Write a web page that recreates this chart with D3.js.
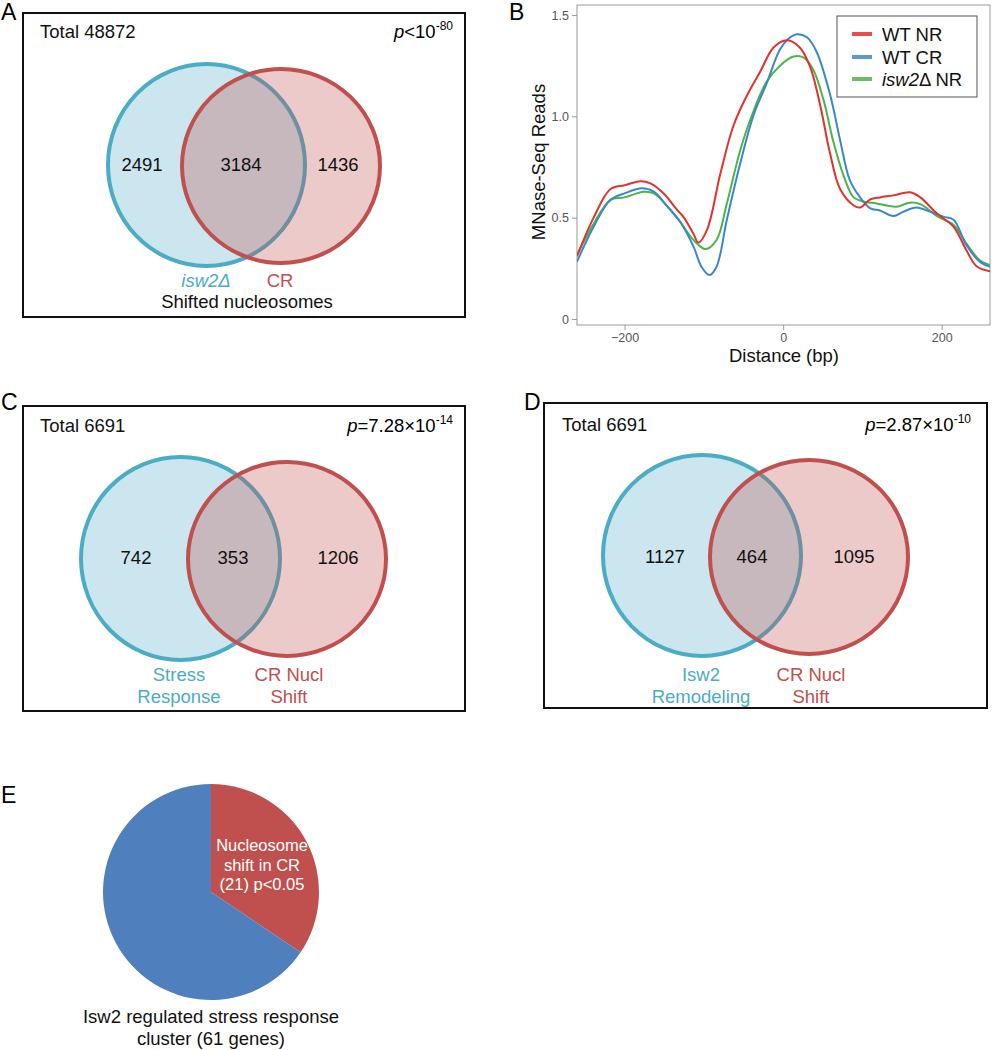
<!DOCTYPE html>
<html><head><meta charset="utf-8">
<script src="https://cdn.jsdelivr.net/npm/d3@7"></script>
<style>
body{margin:0;background:#fff;}
svg{font-family:"Liberation Sans",Arial,sans-serif;}
</style></head>
<body><svg id="chart" width="992" height="1050"></svg>
<script>
// ---------- DATA ----------
const vennAcounts = [2491, 3184, 1436];
const vennAlabels = ["isw2Δ", "CR"];
const vennAtotal = "Total 48872";
const vennCcounts = [742, 353, 1206];
const vennClabels = [["Stress","Response"], ["CR Nucl","Shift"]];
const vennDcounts = [1127, 464, 1095];
const vennDlabels = [["Isw2","Remodeling"], ["CR Nucl","Shift"]];
const totalCD = "Total 6691";

const seriesNames = ["WT NR", "WT CR", "isw2Δ NR"];
const xTicks = [-200, 0, 200];
const yTicks = [0, 0.5, 1.0, 1.5];
const wtNR = [[-260,0.31],[-239,0.50],[-218,0.64],[-200,0.66],[-180,0.68],[-168,0.67],[-151,0.62],[-134,0.54],[-126,0.505],[-113,0.42],[-107,0.377],[-96,0.44],[-79,0.72],[-63,0.95],[-46,1.10],[-29,1.22],[-12,1.34],[5,1.375],[21,1.34],[34,1.245],[47,1.05],[59,0.82],[72,0.64],[89,0.56],[97,0.55],[110,0.59],[122,0.60],[139,0.61],[160,0.625],[173,0.60],[194,0.52],[215,0.455],[231,0.34],[244,0.26],[261,0.235]];
const wtCR = [[-260,0.283],[-239,0.455],[-218,0.587],[-200,0.62],[-178,0.645],[-163,0.628],[-147,0.56],[-130,0.48],[-113,0.357],[-103,0.258],[-93,0.217],[-84,0.258],[-71,0.49],[-54,0.77],[-37,1.01],[-21,1.16],[-4,1.33],[9,1.39],[17,1.405],[30,1.39],[42,1.32],[59,1.11],[72,0.88],[84,0.686],[97,0.60],[110,0.546],[122,0.535],[139,0.508],[152,0.53],[168,0.55],[185,0.53],[202,0.505],[215,0.49],[231,0.365],[248,0.283],[261,0.258]];
const isw2NR = [[-260,0.316],[-239,0.47],[-218,0.587],[-200,0.60],[-176,0.628],[-163,0.62],[-147,0.56],[-130,0.48],[-113,0.39],[-98,0.345],[-84,0.39],[-71,0.57],[-54,0.834],[-37,1.03],[-21,1.17],[-4,1.25],[13,1.295],[26,1.29],[38,1.23],[51,1.08],[63,0.88],[76,0.71],[89,0.60],[101,0.58],[118,0.57],[131,0.56],[143,0.554],[160,0.574],[173,0.567],[194,0.508],[215,0.464],[231,0.373],[248,0.29],[261,0.266]];

const pieValues = [21, 40];
const pieText = ["Nucleosome", "shift in CR", "(21) p<0.05"];
const pieCaption = ["Isw2 regulated stress response", "cluster (61 genes)"];

// ---------- STYLE ----------
const BLUE = "#4bacc6", RED = "#c0504d";
const svg = d3.select("#chart");
const FS = 18.5;

function panelLabel(t, x, y){
  svg.append("text").attr("x", x).attr("y", y).attr("font-size", 23).text(t);
}

function pText(g, x, y, parts){
  const t = g.append("text").attr("x", x).attr("y", y).attr("font-size", FS).attr("text-anchor","end");
  t.append("tspan").attr("font-style","italic").text("p");
  t.append("tspan").text(parts[0]);
  t.append("tspan").attr("font-size", 12).attr("dy", -8).text(parts[1]);
}

function venn(cfg){
  const g = svg.append("g");
  g.append("rect").attr("x", cfg.box[0]).attr("y", cfg.box[1]).attr("width", cfg.box[2]-cfg.box[0]).attr("height", cfg.box[3]-cfg.box[1])
    .attr("fill","none").attr("stroke","#111").attr("stroke-width",2);
  g.append("ellipse").attr("cx", cfg.c1[0]).attr("cy", cfg.c1[1]).attr("rx", cfg.c1[2]).attr("ry", cfg.c1[3])
    .attr("fill","#cbe6ee").attr("stroke", BLUE).attr("stroke-width",4);
  g.append("ellipse").attr("cx", cfg.c2[0]).attr("cy", cfg.c2[1]).attr("rx", cfg.c2[2]).attr("ry", cfg.c2[3])
    .attr("fill", RED).attr("fill-opacity",0.3).attr("stroke","none");
  g.append("ellipse").attr("cx", cfg.c2[0]).attr("cy", cfg.c2[1]).attr("rx", cfg.c2[2]).attr("ry", cfg.c2[3])
    .attr("fill","none").attr("stroke", RED).attr("stroke-width",4);
  g.append("text").attr("x", cfg.total[0]).attr("y", cfg.total[1]).attr("font-size", FS).attr("fill","#111").text(cfg.totalText);
  pText(g, cfg.p[0], cfg.p[1], cfg.pParts);
  cfg.counts.forEach((c,i)=>{
    g.append("text").attr("x", cfg.numX[i]).attr("y", cfg.numY).attr("text-anchor","middle").attr("font-size", FS).attr("fill","#111").text(c);
  });
  return g;
}

// Panel A
panelLabel("A", 1, 20);
const gA = venn({box:[23,13,465,317], c1:[206.5,165,98.5,101], c2:[281,166,99,97],
  total:[40,38], totalText:vennAtotal, p:[453,38], pParts:["<10","-80"],
  counts:vennAcounts, numX:[142,241,338], numY:171});
gA.append("text").attr("x",206).attr("y",287).attr("text-anchor","middle").attr("font-size",FS).attr("font-style","italic").attr("fill",BLUE).text(vennAlabels[0]);
gA.append("text").attr("x",280).attr("y",287).attr("text-anchor","middle").attr("font-size",FS).attr("fill",RED).text(vennAlabels[1]);
gA.append("text").attr("x",247).attr("y",308).attr("text-anchor","middle").attr("font-size",FS).attr("fill","#111").text("Shifted nucleosomes");

// Panel C
panelLabel("C", 1, 410);
const gC = venn({box:[23,406,465,711], c1:[180.5,558.5,99.5,101.5], c2:[287,559,99,97],
  total:[40,432], totalText:totalCD, p:[453,432], pParts:["=7.28×10","-14"],
  counts:vennCcounts, numX:[136,233,338], numY:564});
vennClabels[0].forEach((t,i)=>gC.append("text").attr("x",179).attr("y",681+22*i).attr("text-anchor","middle").attr("font-size",FS).attr("fill",BLUE).text(t));
vennClabels[1].forEach((t,i)=>gC.append("text").attr("x",289).attr("y",681+22*i).attr("text-anchor","middle").attr("font-size",FS).attr("fill",RED).text(t));

// Panel D
panelLabel("D", 524, 410);
const gD = venn({box:[544,403,987,708], c1:[702,555.5,99,100.5], c2:[809,557,99,97],
  total:[562,431], totalText:totalCD, p:[971,431], pParts:["=2.87×10","-10"],
  counts:vennDcounts, numX:[665,752,854], numY:563});
vennDlabels[0].forEach((t,i)=>gD.append("text").attr("x",701).attr("y",681+22*i).attr("text-anchor","middle").attr("font-size",FS).attr("fill",BLUE).text(t));
vennDlabels[1].forEach((t,i)=>gD.append("text").attr("x",811).attr("y",681+22*i).attr("text-anchor","middle").attr("font-size",FS).attr("fill",RED).text(t));

// Panel B line chart
panelLabel("B", 509, 20);
const L = 577, R = 990, T = 5, Bt = 325;
const x = d3.scaleLinear().domain([-260, 260.9]).range([L, R]);
const y = d3.scaleLinear().domain([0, 1.5]).range([319, 15]);
const gB = svg.append("g");
gB.append("defs").append("clipPath").attr("id","clipB").append("rect").attr("x",L).attr("y",T).attr("width",R-L).attr("height",Bt-T);
gB.append("rect").attr("x",L).attr("y",T).attr("width",R-L).attr("height",Bt-T).attr("fill","none").attr("stroke","#9a9a9a").attr("stroke-width",1);
const yAx = gB.append("g").attr("transform",`translate(${L},0)`).call(d3.axisLeft(y).tickValues(yTicks).tickSize(5).tickFormat(d=> d===0?"0":d3.format(".1f")(d)));
const xAx = gB.append("g").attr("transform",`translate(0,${Bt})`).call(d3.axisBottom(x).tickValues(xTicks).tickSize(5).tickFormat(d=> d<0? "\u2212"+Math.abs(d): d));
[yAx,xAx].forEach(a=>{
  a.select(".domain").remove();
  a.selectAll(".tick line").attr("stroke","#9a9a9a");
  a.selectAll(".tick text").attr("fill","#555").attr("font-size",12.5).attr("font-family","Liberation Sans, Arial, sans-serif");
});
const line = d3.line().x(d=>x(d[0])).y(d=>y(d[1])).curve(d3.curveCatmullRom.alpha(0.5));
const series = [[wtNR,"#e3312f"],[wtCR,"#3b88c9"],[isw2NR,"#4db548"]];
const lg = gB.append("g").attr("clip-path","url(#clipB)");
[series[2], series[1], series[0]].forEach(([d,c])=>{
  lg.append("path").attr("d", line(d)).attr("fill","none").attr("stroke",c).attr("stroke-width",2);
});
gB.append("text").attr("transform","translate(545,162) rotate(-90)").attr("text-anchor","middle").attr("font-size",FS).attr("fill","#111").text("MNase-Seq Reads");
gB.append("text").attr("x",784).attr("y",362).attr("text-anchor","middle").attr("font-size",FS).attr("fill","#111").text("Distance (bp)");
// legend
gB.append("rect").attr("x",837).attr("y",16).attr("width",140).attr("height",81).attr("fill","#fff").attr("stroke","#555").attr("stroke-width",1);
const legY = [34, 57, 79];
series.forEach(([d,c],i)=>{
  gB.append("line").attr("x1",852).attr("x2",872).attr("y1",legY[i]).attr("y2",legY[i]).attr("stroke",c).attr("stroke-width",4).attr("stroke-opacity",0.85);
  const t = gB.append("text").attr("x",882).attr("y",legY[i]+6.5).attr("font-size",FS).attr("fill","#111");
  if (i===2){
    t.append("tspan").attr("font-style","italic").text("isw2");
    t.append("tspan").text("Δ NR");
  } else t.text(seriesNames[i]);
});

// Panel E pie
panelLabel("E", 1, 803);
const cx = 211, cy = 892, rr = 108;
const pie = d3.pie().sort(null).value(d=>d)(pieValues);
const arc = d3.arc().innerRadius(0).outerRadius(rr);
const gE = svg.append("g").attr("transform",`translate(${cx},${cy})`);
gE.selectAll("path").data(pie).join("path").attr("d",arc).attr("fill",(d,i)=> i===0? RED : "#4f7fbc");
pieText.forEach((t,i)=>gE.append("text").attr("x",51).attr("y",-41+19.5*i).attr("text-anchor","middle").attr("font-size",16.5).attr("fill","#fff").text(t));
pieCaption.forEach((t,i)=>svg.append("text").attr("x",211).attr("y",1023+22*i).attr("text-anchor","middle").attr("font-size",FS).attr("fill","#111").text(t));
</script></body></html>
